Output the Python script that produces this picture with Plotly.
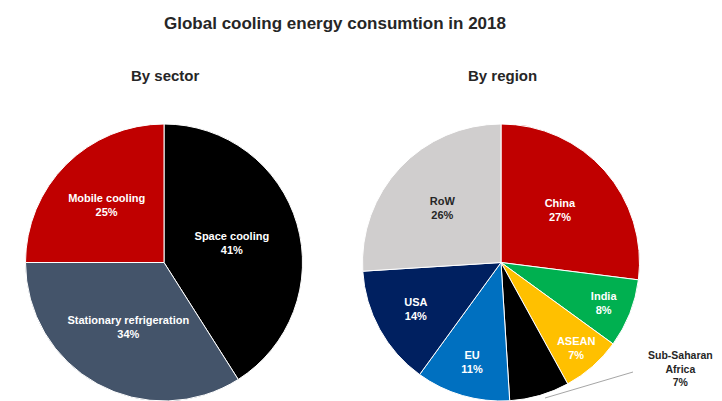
import plotly.graph_objects as go

title_text = "Global cooling energy consumtion in 2018"

sector_labels = ["Space cooling", "Stationary refrigeration", "Mobile cooling"]
sector_values = [41, 34, 25]
sector_colors = ["#000000", "#44546A", "#C00000"]

region_labels = ["China", "India", "ASEAN", "Sub-Saharan Africa", "EU", "USA", "RoW"]
region_values = [27, 8, 7, 7, 11, 14, 26]
region_colors = ["#C00000", "#00B050", "#FFC000", "#000000", "#0070C0", "#002060", "#D0CECE"]

FONT = "Liberation Sans, Arial, sans-serif"
# the page body has an 8px default margin, so the figure is drawn 8px right/down
OFF = 8
W, H = 722 - OFF, 401 - OFF

def px(x):
    return (x - OFF) / W

def py(y):
    return 1 - (y - OFF) / H

def tmpl(labels, hidden=()):
    return ["" if l in hidden else "<b>%{label}</b><br><b>%{percent:.0%}</b>" for l in labels]

def txtcolors(labels, dark=()):
    return ["#262626" if l in dark else "#ffffff" for l in labels]

R = 139
fig = go.Figure()
fig.add_trace(go.Pie(
    labels=sector_labels, values=sector_values, sort=False,
    direction="clockwise", rotation=0,
    marker=dict(colors=sector_colors, line=dict(color="#ffffff", width=1)),
    texttemplate=tmpl(sector_labels), textposition="inside",
    insidetextorientation="horizontal",
    insidetextfont=dict(family=FONT, size=11, color=txtcolors(sector_labels)),
    domain=dict(x=[px(164 - R), px(164 + R)], y=[0, py(124)]),
    showlegend=False, hoverinfo="label+percent",
))
fig.add_trace(go.Pie(
    labels=region_labels, values=region_values, sort=False,
    direction="clockwise", rotation=0,
    marker=dict(colors=region_colors, line=dict(color="#ffffff", width=1)),
    texttemplate=tmpl(region_labels, hidden=("Sub-Saharan Africa",)), textposition="inside",
    insidetextorientation="horizontal",
    insidetextfont=dict(family=FONT, size=11, color=txtcolors(region_labels, dark=("RoW",))),
    domain=dict(x=[px(501 - R), px(501 + R)], y=[0, py(124)]),
    showlegend=False, hoverinfo="label+percent",
))

annotations = [
    dict(text="<b>By sector</b>", x=px(165), y=py(75), xref="paper", yref="paper",
         showarrow=False, font=dict(family=FONT, size=15, color="#262626"), xanchor="center", yanchor="middle"),
    dict(text="<b>By region</b>", x=px(502), y=py(75), xref="paper", yref="paper",
         showarrow=False, font=dict(family=FONT, size=15, color="#262626"), xanchor="center", yanchor="middle"),
    dict(text="<b>Sub-Saharan<br>Africa<br>7%</b>", x=px(680), y=py(368), xref="paper", yref="paper",
         showarrow=False, font=dict(family=FONT, size=10.5, color="#262626"), xanchor="center", yanchor="middle",
         align="center"),
]

shapes = [
    dict(type="line", xref="paper", yref="paper", x0=px(633), y0=py(372), x1=px(545), y1=py(398),
         line=dict(color="#A6A6A6", width=1)),
]

fig.update_layout(
    width=W, height=H,
    margin=dict(l=0, r=0, t=0, b=0),
    paper_bgcolor="#ffffff", plot_bgcolor="#ffffff",
    title=dict(text="<b>" + title_text + "</b>", x=px(335), xanchor="center", y=py(23), yanchor="middle",
               font=dict(family=FONT, size=17, color="#262626")),
    annotations=annotations, shapes=shapes,
    uniformtext=dict(minsize=11, mode="show"),
)

fig.write_html("out.html")
